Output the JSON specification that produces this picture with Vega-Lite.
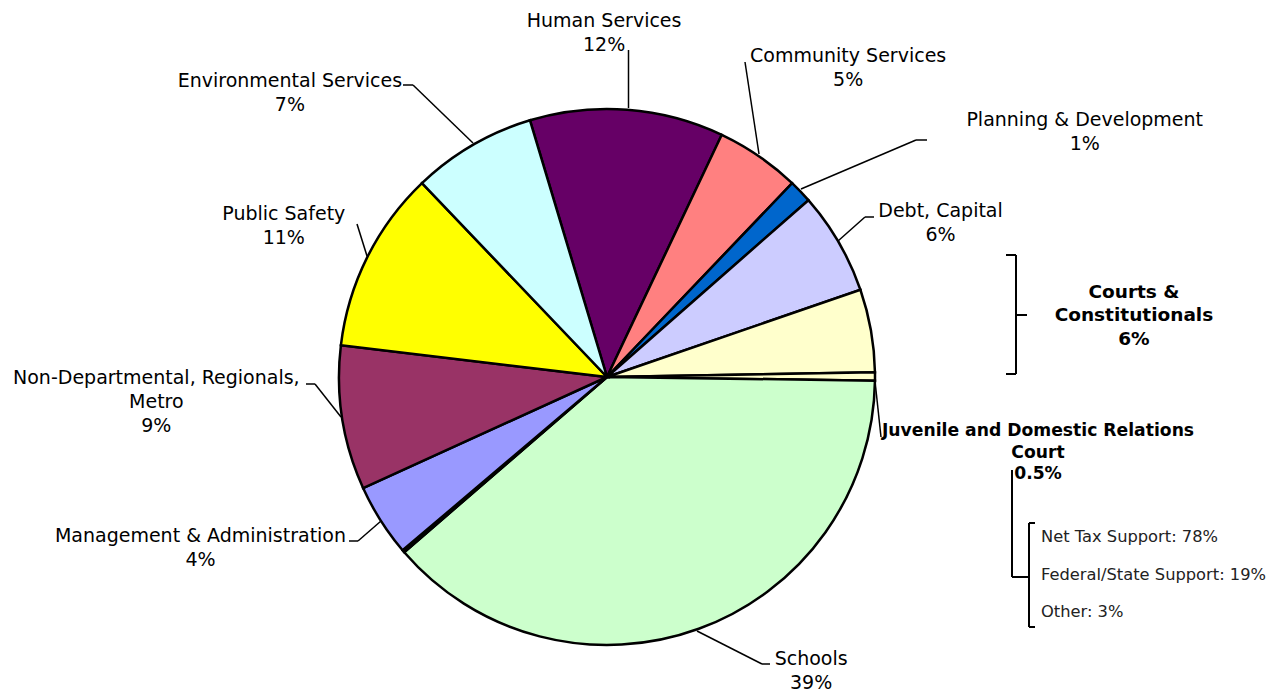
{
  "$schema": "https://vega.github.io/schema/vega-lite/v6.json",
  "width": 1214,
  "height": 630,
  "autosize": "none",
  "padding": {"left": 0, "top": 62, "right": 66, "bottom": 0},
  "background": "white",
  "config": {"view": {"stroke": null}, "text": {"font": "DejaVu Sans"}},
  "data": {
    "values": [
      {"label": "Human Services", "value": 11.7, "order": 1, "disp": "Human Services\n12%"},
      {"label": "Community Services", "value": 5.1, "order": 2, "disp": "Community Services\n5%"},
      {"label": "Planning & Development", "value": 1.4, "order": 3, "disp": "Planning & Development\n1%"},
      {"label": "Debt, Capital", "value": 6.2, "order": 4, "disp": "Debt, Capital\n6%"},
      {"label": "Courts & Constitutionals", "value": 5.0, "order": 5, "disp": "Courts &\nConstitutionals\n6%"},
      {"label": "Juvenile and Domestic Relations Court", "value": 0.5, "order": 6, "disp": "Juvenile and Domestic Relations\nCourt\n0.5%", "sources": "Net Tax Support: 78%\nFederal/State Support: 19%\nOther: 3%"},
      {"label": "Schools", "value": 38.5, "order": 7, "disp": "Schools\n39%"},
      {"label": "Unlabeled", "value": 0.15, "order": 8, "disp": ""},
      {"label": "Management & Administration", "value": 4.4, "order": 9, "disp": "Management & Administration\n4%"},
      {"label": "Non-Departmental, Regionals, Metro", "value": 8.7, "order": 10, "disp": "Non-Departmental, Regionals,\nMetro\n9%"},
      {"label": "Public Safety", "value": 11.0, "order": 11, "disp": "Public Safety\n11%"},
      {"label": "Environmental Services", "value": 7.5, "order": 12, "disp": "Environmental Services\n7%"}
    ]
  },
  "layer": [
    {
      "mark": {"type": "arc", "outerRadius": 268, "stroke": "black", "strokeWidth": 2.5},
      "encoding": {
        "theta": {"field": "value", "type": "quantitative", "stack": true, "scale": {"range": [-0.2915, 5.9917]}},
        "order": {"field": "order", "type": "quantitative"},
        "color": {
          "field": "label", "type": "nominal", "legend": null,
          "scale": {
            "domain": ["Human Services", "Community Services", "Planning & Development", "Debt, Capital", "Courts & Constitutionals", "Juvenile and Domestic Relations Court", "Schools", "Unlabeled", "Management & Administration", "Non-Departmental, Regionals, Metro", "Public Safety", "Environmental Services"],
            "range": ["#660066", "#FF8080", "#0066CC", "#CCCCFF", "#FFFFCC", "#FFFFCC", "#CCFFCC", "#FFFFFF", "#9999FF", "#993366", "#FFFF00", "#CCFFFF"]
          }
        }
      }
    },
    {
      "mark": {"type": "text", "radius": 346, "dx": -29, "dy": -11, "fontSize": 19, "lineHeight": 24, "lineBreak": "\n", "align": "center", "baseline": "middle", "color": "black"},
      "encoding": {"theta": {"field": "value", "type": "quantitative", "stack": true}, "order": {"field": "order", "type": "quantitative"}, "detail": {"field": "label", "type": "nominal"}, "text": {"condition": {"test": "datum.label === 'Human Services'", "field": "disp", "type": "nominal"}, "value": ""}}
    },
    {
      "mark": {"type": "text", "radius": 392, "dx": 19, "dy": 2, "fontSize": 19, "lineHeight": 24, "lineBreak": "\n", "align": "center", "baseline": "middle", "color": "black"},
      "encoding": {"theta": {"field": "value", "type": "quantitative", "stack": true}, "order": {"field": "order", "type": "quantitative"}, "detail": {"field": "label", "type": "nominal"}, "text": {"condition": {"test": "datum.label === 'Community Services'", "field": "disp", "type": "nominal"}, "value": ""}}
    },
    {
      "mark": {"type": "text", "radius": 515, "dx": 106, "dy": 99, "fontSize": 19, "lineHeight": 24, "lineBreak": "\n", "align": "center", "baseline": "middle", "color": "black"},
      "encoding": {"theta": {"field": "value", "type": "quantitative", "stack": true}, "order": {"field": "order", "type": "quantitative"}, "detail": {"field": "label", "type": "nominal"}, "text": {"condition": {"test": "datum.label === 'Planning & Development'", "field": "disp", "type": "nominal"}, "value": ""}}
    },
    {
      "mark": {"type": "text", "radius": 366, "dx": 17, "dy": 18, "fontSize": 19, "lineHeight": 24, "lineBreak": "\n", "align": "center", "baseline": "middle", "color": "black"},
      "encoding": {"theta": {"field": "value", "type": "quantitative", "stack": true}, "order": {"field": "order", "type": "quantitative"}, "detail": {"field": "label", "type": "nominal"}, "text": {"condition": {"test": "datum.label === 'Debt, Capital'", "field": "disp", "type": "nominal"}, "value": ""}}
    },
    {
      "mark": {"type": "text", "radius": 530, "dx": 5, "dy": 7, "fontSize": 18.5, "fontWeight": "bold", "lineHeight": 23.5, "lineBreak": "\n", "align": "center", "baseline": "middle", "color": "black"},
      "encoding": {"theta": {"field": "value", "type": "quantitative", "stack": true}, "order": {"field": "order", "type": "quantitative"}, "detail": {"field": "label", "type": "nominal"}, "text": {"condition": {"test": "datum.label === 'Courts & Constitutionals'", "field": "disp", "type": "nominal"}, "value": ""}}
    },
    {
      "mark": {"type": "text", "radius": 431, "dx": 0, "dy": 55, "fontSize": 17.2, "fontWeight": "bold", "lineHeight": 21.5, "lineBreak": "\n", "align": "center", "baseline": "middle", "color": "black"},
      "encoding": {"theta": {"field": "value", "type": "quantitative", "stack": true}, "order": {"field": "order", "type": "quantitative"}, "detail": {"field": "label", "type": "nominal"}, "text": {"condition": {"test": "datum.label === 'Juvenile and Domestic Relations Court'", "field": "disp", "type": "nominal"}, "value": ""}}
    },
    {
      "mark": {"type": "text", "radius": 434, "dx": 0, "dy": 161, "fontSize": 16.3, "lineHeight": 37.5, "lineBreak": "\n", "align": "left", "baseline": "middle", "color": "#222222"},
      "encoding": {"theta": {"field": "value", "type": "quantitative", "stack": true}, "order": {"field": "order", "type": "quantitative"}, "detail": {"field": "label", "type": "nominal"}, "text": {"condition": {"test": "datum.label === 'Juvenile and Domestic Relations Court'", "field": "sources", "type": "nominal"}, "value": ""}}
    },
    {
      "mark": {"type": "text", "radius": 345, "dx": 86, "dy": -42, "fontSize": 19, "lineHeight": 24, "lineBreak": "\n", "align": "center", "baseline": "middle", "color": "black"},
      "encoding": {"theta": {"field": "value", "type": "quantitative", "stack": true}, "order": {"field": "order", "type": "quantitative"}, "detail": {"field": "label", "type": "nominal"}, "text": {"condition": {"test": "datum.label === 'Schools'", "field": "disp", "type": "nominal"}, "value": ""}}
    },
    {
      "mark": {"type": "text", "radius": 434, "dx": -40, "dy": -73, "fontSize": 19, "lineHeight": 24, "lineBreak": "\n", "align": "center", "baseline": "middle", "color": "black"},
      "encoding": {"theta": {"field": "value", "type": "quantitative", "stack": true}, "order": {"field": "order", "type": "quantitative"}, "detail": {"field": "label", "type": "nominal"}, "text": {"condition": {"test": "datum.label === 'Management & Administration'", "field": "disp", "type": "nominal"}, "value": ""}}
    },
    {
      "mark": {"type": "text", "radius": 449, "dx": -7, "dy": -68, "fontSize": 19, "lineHeight": 24, "lineBreak": "\n", "align": "center", "baseline": "middle", "color": "black"},
      "encoding": {"theta": {"field": "value", "type": "quantitative", "stack": true}, "order": {"field": "order", "type": "quantitative"}, "detail": {"field": "label", "type": "nominal"}, "text": {"condition": {"test": "datum.label === 'Non-Departmental, Regionals, Metro'", "field": "disp", "type": "nominal"}, "value": ""}}
    },
    {
      "mark": {"type": "text", "radius": 358, "dx": -3, "dy": -3, "fontSize": 19, "lineHeight": 24, "lineBreak": "\n", "align": "center", "baseline": "middle", "color": "black"},
      "encoding": {"theta": {"field": "value", "type": "quantitative", "stack": true}, "order": {"field": "order", "type": "quantitative"}, "detail": {"field": "label", "type": "nominal"}, "text": {"condition": {"test": "datum.label === 'Public Safety'", "field": "disp", "type": "nominal"}, "value": ""}}
    },
    {
      "mark": {"type": "text", "radius": 406, "dx": -113, "dy": 55, "fontSize": 19, "lineHeight": 24, "lineBreak": "\n", "align": "center", "baseline": "middle", "color": "black"},
      "encoding": {"theta": {"field": "value", "type": "quantitative", "stack": true}, "order": {"field": "order", "type": "quantitative"}, "detail": {"field": "label", "type": "nominal"}, "text": {"condition": {"test": "datum.label === 'Environmental Services'", "field": "disp", "type": "nominal"}, "value": ""}}
    },
    {"data": {"values": [{}]}, "mark": {"type": "rule", "color": "black", "strokeWidth": 1.5}, "encoding": {"x": {"datum": 628.5, "type": "quantitative", "scale": {"domain": [0, 1214], "nice": false, "zero": false}, "axis": null}, "y": {"datum": 50, "type": "quantitative", "scale": {"domain": [62, 692], "reverse": true, "nice": false, "zero": false}, "axis": null}, "x2": {"datum": 628.5}, "y2": {"datum": 108}}},
    {"data": {"values": [{}]}, "mark": {"type": "rule", "color": "black", "strokeWidth": 1.5}, "encoding": {"x": {"datum": 745, "type": "quantitative", "axis": null}, "y": {"datum": 62, "type": "quantitative", "axis": null}, "x2": {"datum": 759}, "y2": {"datum": 154}}},
    {"data": {"values": [{}]}, "mark": {"type": "rule", "color": "black", "strokeWidth": 1.5}, "encoding": {"x": {"datum": 801, "type": "quantitative", "axis": null}, "y": {"datum": 189, "type": "quantitative", "axis": null}, "x2": {"datum": 916}, "y2": {"datum": 140}}},
    {"data": {"values": [{}]}, "mark": {"type": "rule", "color": "black", "strokeWidth": 1.5}, "encoding": {"x": {"datum": 916, "type": "quantitative", "axis": null}, "y": {"datum": 140, "type": "quantitative", "axis": null}, "x2": {"datum": 927}, "y2": {"datum": 140}}},
    {"data": {"values": [{}]}, "mark": {"type": "rule", "color": "black", "strokeWidth": 1.5}, "encoding": {"x": {"datum": 838, "type": "quantitative", "axis": null}, "y": {"datum": 241, "type": "quantitative", "axis": null}, "x2": {"datum": 865}, "y2": {"datum": 217}}},
    {"data": {"values": [{}]}, "mark": {"type": "rule", "color": "black", "strokeWidth": 1.5}, "encoding": {"x": {"datum": 865, "type": "quantitative", "axis": null}, "y": {"datum": 217, "type": "quantitative", "axis": null}, "x2": {"datum": 874}, "y2": {"datum": 217}}},
    {"data": {"values": [{}]}, "mark": {"type": "rule", "color": "black", "strokeWidth": 1.5}, "encoding": {"x": {"datum": 875, "type": "quantitative", "axis": null}, "y": {"datum": 381, "type": "quantitative", "axis": null}, "x2": {"datum": 881}, "y2": {"datum": 437}}},
    {"data": {"values": [{}]}, "mark": {"type": "rule", "color": "black", "strokeWidth": 1.5}, "encoding": {"x": {"datum": 697, "type": "quantitative", "axis": null}, "y": {"datum": 631, "type": "quantitative", "axis": null}, "x2": {"datum": 762}, "y2": {"datum": 664}}},
    {"data": {"values": [{}]}, "mark": {"type": "rule", "color": "black", "strokeWidth": 1.5}, "encoding": {"x": {"datum": 762, "type": "quantitative", "axis": null}, "y": {"datum": 664, "type": "quantitative", "axis": null}, "x2": {"datum": 770}, "y2": {"datum": 664}}},
    {"data": {"values": [{}]}, "mark": {"type": "rule", "color": "black", "strokeWidth": 1.5}, "encoding": {"x": {"datum": 349, "type": "quantitative", "axis": null}, "y": {"datum": 541, "type": "quantitative", "axis": null}, "x2": {"datum": 358}, "y2": {"datum": 541}}},
    {"data": {"values": [{}]}, "mark": {"type": "rule", "color": "black", "strokeWidth": 1.5}, "encoding": {"x": {"datum": 358, "type": "quantitative", "axis": null}, "y": {"datum": 541, "type": "quantitative", "axis": null}, "x2": {"datum": 381}, "y2": {"datum": 521}}},
    {"data": {"values": [{}]}, "mark": {"type": "rule", "color": "black", "strokeWidth": 1.5}, "encoding": {"x": {"datum": 306, "type": "quantitative", "axis": null}, "y": {"datum": 384, "type": "quantitative", "axis": null}, "x2": {"datum": 315}, "y2": {"datum": 384}}},
    {"data": {"values": [{}]}, "mark": {"type": "rule", "color": "black", "strokeWidth": 1.5}, "encoding": {"x": {"datum": 315, "type": "quantitative", "axis": null}, "y": {"datum": 384, "type": "quantitative", "axis": null}, "x2": {"datum": 341}, "y2": {"datum": 417}}},
    {"data": {"values": [{}]}, "mark": {"type": "rule", "color": "black", "strokeWidth": 1.5}, "encoding": {"x": {"datum": 357, "type": "quantitative", "axis": null}, "y": {"datum": 224, "type": "quantitative", "axis": null}, "x2": {"datum": 367}, "y2": {"datum": 256}}},
    {"data": {"values": [{}]}, "mark": {"type": "rule", "color": "black", "strokeWidth": 1.5}, "encoding": {"x": {"datum": 403, "type": "quantitative", "axis": null}, "y": {"datum": 85, "type": "quantitative", "axis": null}, "x2": {"datum": 413}, "y2": {"datum": 85}}},
    {"data": {"values": [{}]}, "mark": {"type": "rule", "color": "black", "strokeWidth": 1.5}, "encoding": {"x": {"datum": 413, "type": "quantitative", "axis": null}, "y": {"datum": 85, "type": "quantitative", "axis": null}, "x2": {"datum": 473}, "y2": {"datum": 143}}},
    {"data": {"values": [{}]}, "mark": {"type": "rule", "color": "black", "strokeWidth": 2}, "encoding": {"x": {"datum": 1016, "type": "quantitative", "axis": null}, "y": {"datum": 255, "type": "quantitative", "axis": null}, "x2": {"datum": 1016}, "y2": {"datum": 374}}},
    {"data": {"values": [{}]}, "mark": {"type": "rule", "color": "black", "strokeWidth": 2}, "encoding": {"x": {"datum": 1006, "type": "quantitative", "axis": null}, "y": {"datum": 255, "type": "quantitative", "axis": null}, "x2": {"datum": 1016}, "y2": {"datum": 255}}},
    {"data": {"values": [{}]}, "mark": {"type": "rule", "color": "black", "strokeWidth": 2}, "encoding": {"x": {"datum": 1006, "type": "quantitative", "axis": null}, "y": {"datum": 374, "type": "quantitative", "axis": null}, "x2": {"datum": 1016}, "y2": {"datum": 374}}},
    {"data": {"values": [{}]}, "mark": {"type": "rule", "color": "black", "strokeWidth": 2}, "encoding": {"x": {"datum": 1016, "type": "quantitative", "axis": null}, "y": {"datum": 315, "type": "quantitative", "axis": null}, "x2": {"datum": 1027}, "y2": {"datum": 315}}},
    {"data": {"values": [{}]}, "mark": {"type": "rule", "color": "black", "strokeWidth": 2}, "encoding": {"x": {"datum": 1012, "type": "quantitative", "axis": null}, "y": {"datum": 470, "type": "quantitative", "axis": null}, "x2": {"datum": 1012}, "y2": {"datum": 577}}},
    {"data": {"values": [{}]}, "mark": {"type": "rule", "color": "black", "strokeWidth": 2}, "encoding": {"x": {"datum": 1012, "type": "quantitative", "axis": null}, "y": {"datum": 577, "type": "quantitative", "axis": null}, "x2": {"datum": 1029}, "y2": {"datum": 577}}},
    {"data": {"values": [{}]}, "mark": {"type": "rule", "color": "black", "strokeWidth": 2}, "encoding": {"x": {"datum": 1029, "type": "quantitative", "axis": null}, "y": {"datum": 523, "type": "quantitative", "axis": null}, "x2": {"datum": 1029}, "y2": {"datum": 627}}},
    {"data": {"values": [{}]}, "mark": {"type": "rule", "color": "black", "strokeWidth": 2}, "encoding": {"x": {"datum": 1029, "type": "quantitative", "axis": null}, "y": {"datum": 523, "type": "quantitative", "axis": null}, "x2": {"datum": 1035}, "y2": {"datum": 523}}},
    {"data": {"values": [{}]}, "mark": {"type": "rule", "color": "black", "strokeWidth": 2}, "encoding": {"x": {"datum": 1029, "type": "quantitative", "axis": null}, "y": {"datum": 627, "type": "quantitative", "axis": null}, "x2": {"datum": 1035}, "y2": {"datum": 627}}}
  ]
}
